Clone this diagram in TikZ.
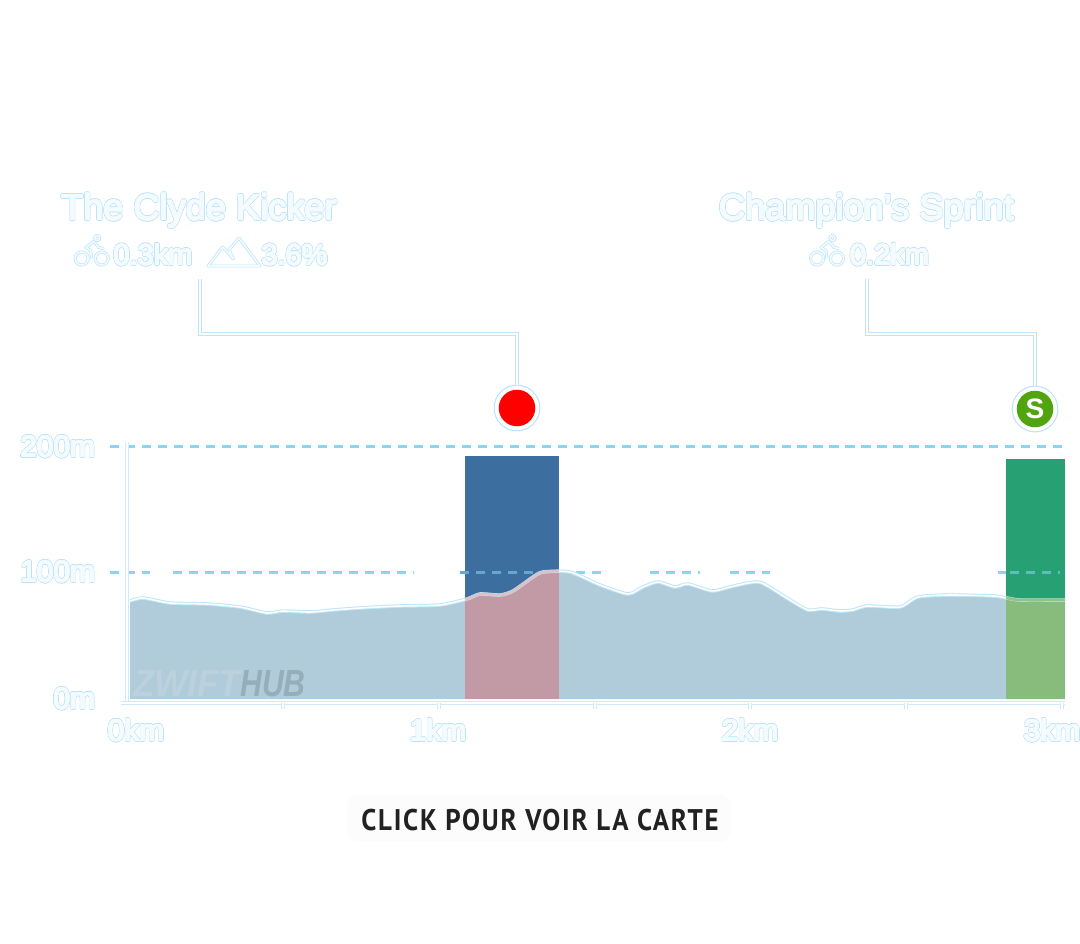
\documentclass[tikz,border=0pt]{standalone}
\usepackage{fontspec}
\usepackage[copies]{contour}
\setmainfont{Liberation Sans}
\newfontfamily\btnfont[FakeStretch=0.9,LetterSpace=6]{PT Sans Bold}
\newfontfamily\zwiftfont[FakeStretch=0.93]{Liberation Sans Bold Italic}
\newfontfamily\hubfont[FakeStretch=0.8]{Liberation Sans Bold Italic}
\usetikzlibrary{positioning}

\definecolor{ghostline}{HTML}{BCE5FA}
\definecolor{ghostfill}{HTML}{F4FBFF}
\definecolor{axisline}{HTML}{CDEBF9}
\definecolor{dashblue}{HTML}{8BD4F8}
\definecolor{areablue}{HTML}{B0CBD9}
\definecolor{climbtop}{HTML}{3C6E9F}
\definecolor{climbarea}{HTML}{C29AA5}
\definecolor{sprinttop}{HTML}{27A074}
\definecolor{sprintarea}{HTML}{88BC7D}
\definecolor{sprintdot}{HTML}{50A410}
\definecolor{zwiftgrey}{HTML}{BBD2DE}
\definecolor{hubgrey}{HTML}{96AEBC}

\contournumber{24}
% wide outline first, then a narrower pale body over it
\newcommand{\ghost}[1]{\rlap{\contourlength{0.75pt}\contour{ghostline}{\textcolor{ghostline}{#1}}}\contourlength{0.35pt}\contour{ghostfill}{\textcolor{ghostfill}{#1}}}

\tikzset{
	every node/.style={inner sep=0pt, outer sep=0pt},
	elevtop/.style={insert path={#1 plot[smooth, tension=0.4] coordinates {(130,601) (143,598) (170,603) (207,604) (240,607) (267,613) (283,611) (310,612) (333,610) (360,608) (400,606) (440,605) (467,599) (480,594) (500,595) (513,591) (533,577) (543,572) (570,572) (600,585) (628,594) (643,587) (658,582) (675,587) (688,584) (712,591) (730,587) (748,583) (762,583) (790,600) (808,610) (822,609) (840,611) (853,610) (867,606) (900,607) (918,597) (950,595) (993,596) (1007,598) (1020,600) (1065,600)}}},
	titlelabel/.style={anchor=base, font=\fontsize{20.6}{25}\selectfont},
	statlabel/.style={anchor=base, font=\fontsize{16.5}{20}\selectfont},
	ylabel/.style={anchor=base east, font=\fontsize{17}{20}\selectfont},
	xlabel/.style={anchor=base, font=\fontsize{17}{20}\selectfont},
	leader/.style={draw=ghostline, line width=0.45pt, double=white, double distance=1.3pt},
	axisrule/.style={draw=axisline, line width=0.5pt, double=white, double distance=1.1pt},
	gridrule/.style={draw=dashblue, line width=1.7pt, dash pattern=on 5.2pt off 3.9pt},
	markring/.style={circle, draw=ghostline, fill=white, line width=0.6pt, minimum size=26pt},
	markdot/.style={circle, minimum size=20.8pt},
	iconline/.style={draw=ghostline, line width=0.4pt, double=ghostfill, double distance=0.9pt},
	cyclist/.pic={
		\draw[iconline] (-10,0) circle (6.5);
		\draw[iconline] (10,0) circle (6.5);
		\draw[iconline] (5.5,-20.5) circle (2.6);
		\draw[iconline, line join=round] (0,0) -- (-1,-8) -- (-6,-11) -- (2,-17) -- (7,-11) -- (12,-10);
	},
}

\begin{document}
\begin{tikzpicture}[x=0.02cm, y=-0.02cm]
	\useasboundingbox[fill=white] (0,0) rectangle (1080,944);

	% coloured segments behind the profile
	\fill[climbtop] (465,456) rectangle (559,699);
	\fill[sprinttop] (1006,459) rectangle (1065,699);

	% grid
	\draw[gridrule] (110,446) -- (1065,446);
	\draw[gridrule] (110,572) -- (150,572);
	\draw[gridrule] (173,572) -- (413,572);
	\draw[gridrule, draw=climbtop!45!dashblue] (460,572) -- (559,572);
	\draw[gridrule] (560,572) -- (606,572);
	\draw[gridrule] (650,572) -- (700,572);
	\draw[gridrule] (730,572) -- (770,572);
	\draw[gridrule] (998,572) -- (1006,572);
	\draw[gridrule, draw=sprinttop!45!dashblue] (1010,572) -- (1060,572);

	% elevation
	\fill[areablue] (130,699) [elevtop=--] -- (1065,699) -- cycle;
	\begin{scope}
		\clip (130,699) [elevtop=--] -- (1065,699) -- cycle;
		\fill[climbarea] (465,560) rectangle (559,699);
		\fill[sprintarea] (1006,560) rectangle (1065,699);
	\end{scope}
	\draw[draw=ghostline, line width=0.55pt, double=white, double distance=0.9pt] [elevtop=];
	\begin{scope}
		\clip (465,540) rectangle (559,699);
		\draw[draw=climbarea!60!white, line width=1.6pt] [elevtop=];
	\end{scope}
	\begin{scope}
		\clip (1006,540) rectangle (1065,699);
		\draw[draw=sprintarea!90!white, line width=1.6pt] [elevtop=];
	\end{scope}

	\node[anchor=base west, font=\fontsize{21.5}{25}\selectfont] (brand) at (133,696)
		{\textcolor{zwiftgrey}{\zwiftfont ZWIFT}\textcolor{hubgrey}{\hubfont HUB}};

	% axes
	\draw[axisrule] (127,442) -- (127,705);
	\draw[axisrule] (121,703) -- (1065,703);
	\foreach \tickx in {283,439,595,750,906,1062}
		\draw[axisrule] (\tickx,703) -- ++(0,6);

	\node[ylabel] (lab200) at (95,457) {\ghost{200m}};
	\node[ylabel] (lab100) at (95,582) {\ghost{100m}};
	\node[ylabel] (lab0) at (95,709) {\ghost{0m}};
	\node[xlabel] (km0) at (136,741) {\ghost{0km}};
	\node[xlabel] (km1) at (438,741) {\ghost{1km}};
	\node[xlabel] (km2) at (750,741) {\ghost{2km}};
	\node[xlabel] (km3) at (1052,741) {\ghost{3km}};

	% climb
	\node[titlelabel] (kicker) at (199,220) {\ghost{The Clyde Kicker}};
	\pic at (91.7,258.5) {cyclist};
	\node[statlabel] (kickerlen) at (153,265) {\ghost{0.3km}};
	\draw[iconline, line join=round] (208,266) -- (222.7,247) -- (233.5,259) -- (229,250) -- (239,238) -- (260,266) -- cycle;
	\node[statlabel] (kickergrade) at (294.5,265) {\ghost{3.6\%}};
	\node[markring] (kickerring) at (517,408) {};
	\node[markdot, fill=red] (kickerdot) at (kickerring) {};
	\coordinate (kickerfoot) at (200,279);
	\draw[leader] (kickerfoot) |- (517,334) -- (kickerring.north);

	% sprint
	\node[titlelabel] (sprint) at (866.5,220) {\ghost{Champion’s Sprint}};
	\pic at (827,258.5) {cyclist};
	\node[statlabel] (sprintlen) at (889.5,265) {\ghost{0.2km}};
	\node[markring] (sprintring) at (1035,409) {};
	\node[markdot, fill=sprintdot, text=white, font=\fontsize{16}{20}\bfseries\selectfont] (sprintmark) at (sprintring) {S};
	\coordinate (sprintfoot) at (867,279);
	\draw[leader] (sprintfoot) |- (1035,334) -- (sprintring.north);

	% button
	\node[fill=black!1, rounded corners=6pt, minimum width=218pt, minimum height=27pt] (mapback) at (539,818) {};
	\node[anchor=base, text=black!87, font=\btnfont\fontsize{17}{20}\selectfont] (maplabel) at (540,830) {CLICK POUR VOIR LA CARTE};
\end{tikzpicture}
\end{document}
